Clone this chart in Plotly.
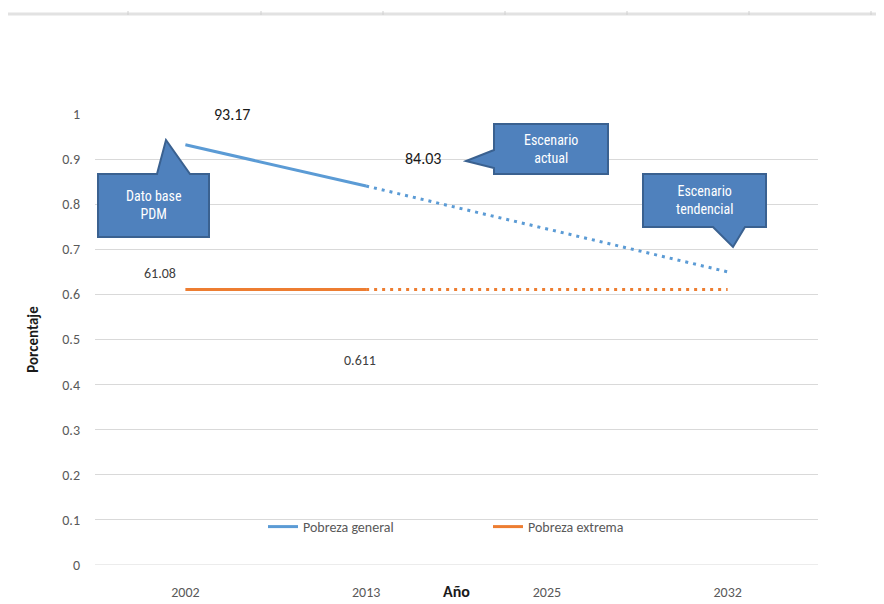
import plotly.graph_objects as go

# ---- data ----
years = ["2002", "2013", "2025", "2032"]
general_actual_years = ["2002", "2013"]
general_actual = [0.9317, 0.8403]
general_trend_years = ["2013", "2025", "2032"]
general_trend = [0.8403, 0.745, 0.65]
extrema_actual_years = ["2002", "2013"]
extrema_actual = [0.611, 0.611]
extrema_trend_years = ["2013", "2025", "2032"]
extrema_trend = [0.611, 0.611, 0.611]
y_ticks = [0, 0.1, 0.2, 0.3, 0.4, 0.5, 0.6, 0.7, 0.8, 0.9, 1]
y_tick_text = ["0", "0.1", "0.2", "0.3", "0.4", "0.5", "0.6", "0.7", "0.8", "0.9", "1"]
value_labels = ["93.17", "84.03", "61.08", "0.611"]
callout_texts = ["Dato base<br>PDM", "Escenario<br>actual", "Escenario<br>tendencial"]

BLUE = "#5B9BD5"
ORANGE = "#ED7D31"
OFF = 8  # page body margin
W, H = 884 - OFF, 604 - OFF
L, R, T, B = 95, 818, 114, 565  # plot area in screenshot pixels

def px(x):
    return (x - L) / (R - L)

def py(y):
    return (B - y) / (B - T)

fig = go.Figure()
fig.add_trace(go.Scatter(x=general_actual_years, y=general_actual, mode="lines",
                         name="Pobreza general", line=dict(color=BLUE, width=3)))
fig.add_trace(go.Scatter(x=general_trend_years, y=general_trend, mode="lines",
                         showlegend=False, line=dict(color=BLUE, width=3, dash="3px,5px")))
fig.add_trace(go.Scatter(x=extrema_actual_years, y=extrema_actual, mode="lines",
                         name="Pobreza extrema", line=dict(color=ORANGE, width=3)))
fig.add_trace(go.Scatter(x=extrema_trend_years, y=extrema_trend, mode="lines",
                         showlegend=False, line=dict(color=ORANGE, width=3, dash="3px,5px")))

shapes = []
# spreadsheet header line at top
shapes.append(dict(type="line", xref="paper", yref="paper", x0=px(8), x1=px(884),
                   y0=py(14), y1=py(14), line=dict(color="#e2e2e2", width=3), layer="above"))
for tx in [128, 261, 383, 505, 627, 749, 871]:
    shapes.append(dict(type="line", xref="paper", yref="paper", x0=px(tx), x1=px(tx),
                       y0=py(15), y1=py(11), line=dict(color="#d0d0d0", width=1)))

def path(points):
    s = "M " + " L ".join(f"{px(x):.5f},{py(y):.5f}" for x, y in points) + " Z"
    return s

callout_style = dict(type="path", xref="paper", yref="paper",
                     fillcolor="#4F81BD", line=dict(color="#3A6190", width=2), layer="above")
# Dato base PDM (pointer up)
shapes.append(dict(path=path([(98, 174), (157, 174), (166, 140), (190, 174), (209, 174),
                              (209, 237), (98, 237)]), **callout_style))
# Escenario actual (pointer left)
shapes.append(dict(path=path([(494, 124), (608, 124), (608, 174), (494, 174), (494, 168),
                              (466, 161), (494, 150)]), **callout_style))
# Escenario tendencial (pointer down)
shapes.append(dict(path=path([(643, 174), (766, 174), (766, 227), (745, 227), (733, 247),
                              (713, 227), (643, 227)]), **callout_style))

annotations = []
lab_font_dark = dict(family="Carlito, Lato, sans-serif", size=16, color="#1a1a1a")
lab_font_gray = dict(family="Carlito, Lato, sans-serif", size=14, color="#404040")
label_pos = [(232, 114, lab_font_dark), (423, 158, lab_font_dark),
             (160, 273, lab_font_gray), (360, 360, lab_font_gray)]
for txt, (x, y, f) in zip(value_labels, label_pos):
    annotations.append(dict(text=txt, xref="paper", yref="paper", x=px(x), y=py(y),
                            showarrow=False, font=f, xanchor="center", yanchor="middle"))

callout_font = dict(family="Liberation Sans Narrow, Roboto Condensed, DejaVu Sans Condensed, sans-serif",
                    size=14, color="white")
callout_pos = [(154, 205), (551, 149), (704, 200)]
for txt, (x, y) in zip(callout_texts, callout_pos):
    annotations.append(dict(text=txt, xref="paper", yref="paper", x=px(x), y=py(y),
                            showarrow=False, font=callout_font, xanchor="center",
                            yanchor="middle", align="center"))

annotations.append(dict(text="<b>Año</b>", xref="paper", yref="paper", x=px(456), y=py(591),
                        showarrow=False, xanchor="center", yanchor="middle",
                        font=dict(family="Carlito, Lato, sans-serif", size=16, color="#1a1a1a")))

fig.update_layout(
    width=W, height=H,
    margin=dict(l=L - OFF, r=884 - R, t=T - OFF, b=604 - B, pad=0, autoexpand=False),
    paper_bgcolor="white", plot_bgcolor="white",
    font=dict(family="Carlito, Lato, sans-serif", size=13, color="#595959"),
    shapes=shapes, annotations=annotations,
    legend=dict(orientation="h", x=px(263), y=py(527), xanchor="left", yanchor="middle",
                bgcolor="rgba(0,0,0,0)", entrywidth=180, entrywidthmode="pixels",
                font=dict(size=14, color="#595959")),
    xaxis=dict(type="category", categoryorder="array", categoryarray=years,
               range=[-0.5, 3.5], showgrid=False, showline=False, zeroline=False,
               automargin=False,
               ticks="", tickfont=dict(size=14, color="#595959"), ticklabelstandoff=17),
    yaxis=dict(range=[0, 1], tickvals=y_ticks, ticktext=y_tick_text,
               showgrid=True, gridcolor="#d9d9d9", gridwidth=1, zeroline=False,
               automargin=False,
               showline=False, ticks="", tickfont=dict(size=14, color="#595959"),
               ticklabelstandoff=14,
               title=dict(text="<b>Porcentaje</b>", standoff=20,
                          font=dict(size=15, color="#1a1a1a"))),
)
# bottom axis line at 0
fig.add_shape(type="line", xref="paper", yref="y", x0=0, x1=1, y0=0, y1=0,
              line=dict(color="#d9d9d9", width=1), layer="below")

fig.write_html("out.html")
